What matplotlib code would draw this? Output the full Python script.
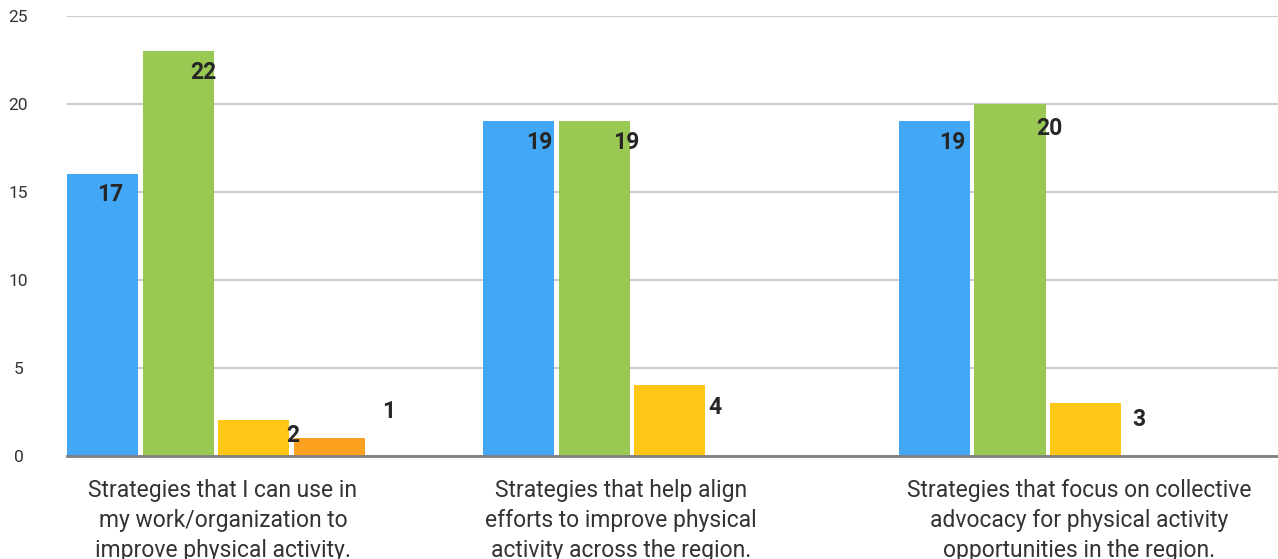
import numpy as np
import matplotlib
matplotlib.use('Agg')
import matplotlib.pyplot as plt

# data (bar heights as drawn, labels as printed)
categories = ['Strategies that I can use in\nmy work/organization to\nimprove physical activity.',
              'Strategies that help align\nefforts to improve physical\nactivity across the region.',
              'Strategies that focus on collective\nadvocacy for physical activity\nopportunities in the region.']
series_colors = ['#42A7F5', '#99C952', '#FFC715', '#FCA11F']
bar_heights = [[16, 19, 19],
               [23, 19, 20],
               [2, 4, 3],
               [1, 0, 0]]
bar_labels = [[17, 19, 19],
              [22, 19, 20],
              [2, 4, 3],
              [1, None, None]]

# label offsets (pixels) from each bar's top-right corner
label_dx = [[-28, -15, -18], [-10, -3, 4], [4, 10, 18], [24, 0, 0]]
label_dy = [[-20, -21, -21], [-21, -21, -25], [-15, -22, -17], [26, 0, 0]]

W, H = 1278, 559
fig = plt.figure(figsize=(W / 100, H / 100), dpi=100)
ax = fig.add_axes([67 / W, (H - 455.5) / H, 1 - 67 / W, (455.5 - 16) / H])

slot = 75.5 / 416
bw = 71 / 416
group_x = np.arange(3)
for s in range(4):
    xs = group_x + s * slot
    hs = bar_heights[s]
    ax.bar(xs, hs, width=bw, align='edge', color=series_colors[s], zorder=3)
    for i in range(3):
        if bar_labels[s][i] is None:
            continue
        ax.annotate(str(bar_labels[s][i]), xy=(xs[i] + bw, hs[i]),
                    xytext=(label_dx[s][i], label_dy[s][i]), textcoords='offset pixels',
                    ha='center', va='center', fontsize=16.5, fontweight='bold',
                    color='#262626', family='Roboto', zorder=5)

ax.set_xlim(0, (W - 67) / 416)
ax.set_ylim(0, 25)
ax.set_yticks([0, 5, 10, 15, 20, 25])
ax.yaxis.grid(True, color='#cccccc', linewidth=1.5, zorder=0)
for sp in ['top', 'right', 'left']:
    ax.spines[sp].set_visible(False)
ax.spines['bottom'].set_color('#7f7f7f')
ax.spines['bottom'].set_linewidth(2)
ax.spines['bottom'].set_zorder(4)
ax.tick_params(axis='y', length=0, pad=35, labelsize=12.5, labelcolor='#333333')
for t in ax.get_yticklabels():
    t.set_horizontalalignment('center')
    t.set_family('Roboto')

label_centers = [(223 - 67) / 416, (621 - 67) / 416, (1079 - 67) / 416]
ax.set_xticks(label_centers)
ax.set_xticklabels(categories, fontsize=16.5, color='#333333', family='Roboto',
                   linespacing=1.38)
ax.tick_params(axis='x', length=0, pad=17)

fig.savefig('out.png', dpi=100)
